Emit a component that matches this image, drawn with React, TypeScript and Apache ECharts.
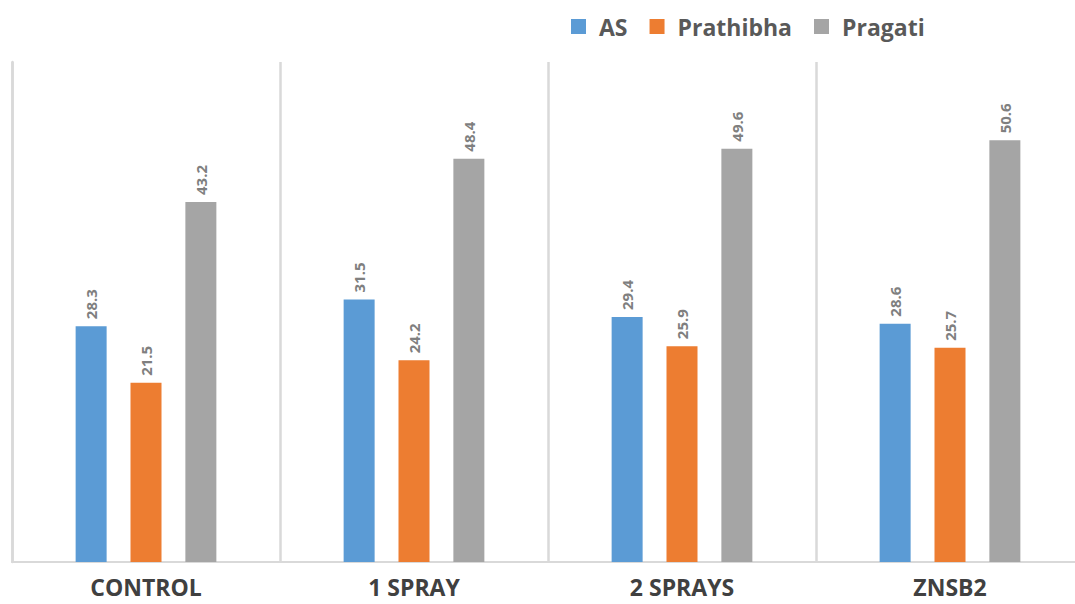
import React, { useEffect, useRef } from "react";
import * as echarts from "echarts";

const categories = ["CONTROL", "1 SPRAY", "2 SPRAYS", "ZNSB2"];
const asValues = [28.3, 31.5, 29.4, 28.6];
const prathibhaValues = [21.5, 24.2, 25.9, 25.7];
const pragatiValues = [43.2, 48.4, 49.6, 50.6];
const seriesNames = ["AS", "Prathibha", "Pragati"];
const colors = ["#5b9bd5", "#ed7d31", "#a5a5a5"];

export default function App() {
  const ref = useRef<HTMLDivElement>(null);
  useEffect(() => {
    if (!ref.current) return;
    const chart = echarts.init(ref.current, null, { renderer: "svg" });
    const font = "'Open Sans', 'Liberation Sans', sans-serif";
    const data = [asValues, prathibhaValues, pragatiValues];
    chart.setOption({
      animation: false,
      color: colors,
      legend: {
        data: seriesNames,
        top: 10,
        left: 566,
        itemWidth: 15,
        itemHeight: 15,
        itemGap: 22,
        icon: "rect",
        textStyle: { color: "#595959", fontSize: 23, fontWeight: "bold", fontFamily: font, padding: [0, 0, 0, 8] },
      },
      grid: { left: 12, right: 6, top: 62, bottom: 42, containLabel: false },
      xAxis: {
        type: "category",
        data: categories,
        axisLine: { show: true, lineStyle: { color: "#d9d9d9", width: 2 } },
        axisTick: { show: false },
        splitLine: { show: true, lineStyle: { color: "#d9d9d9", width: 2.5 } },
        axisLabel: { color: "#404040", fontSize: 23, fontWeight: "bold", fontFamily: font, margin: 13 },
      },
      yAxis: {
        type: "value",
        min: 0,
        max: 60,
        axisLine: { show: true, lineStyle: { color: "#d9d9d9", width: 2.5 } },
        axisLabel: { show: false },
        axisTick: { show: false },
        splitLine: { show: false },
      },
      series: seriesNames.map((name, i) => ({
        name,
        type: "bar",
        data: data[i],
        barWidth: 31,
        barGap: "77%",
        label: {
          show: true,
          position: "top",
          rotate: 90,
          align: "left",
          verticalAlign: "middle",
          distance: 7,
          color: "#7f7f7f",
          fontSize: 15,
          fontWeight: "bold",
          fontFamily: font,
          formatter: (p: any) => Number(p.value).toFixed(1),
        },
      })),
    });
    return () => chart.dispose();
  }, []);
  return (
    <div style={{ position: "fixed", left: 0, top: 0, width: 1075, height: 604, overflow: "hidden", background: "#fff" }}>
      <div ref={ref} style={{ width: 1090, height: 604 }} />
    </div>
  );
}
